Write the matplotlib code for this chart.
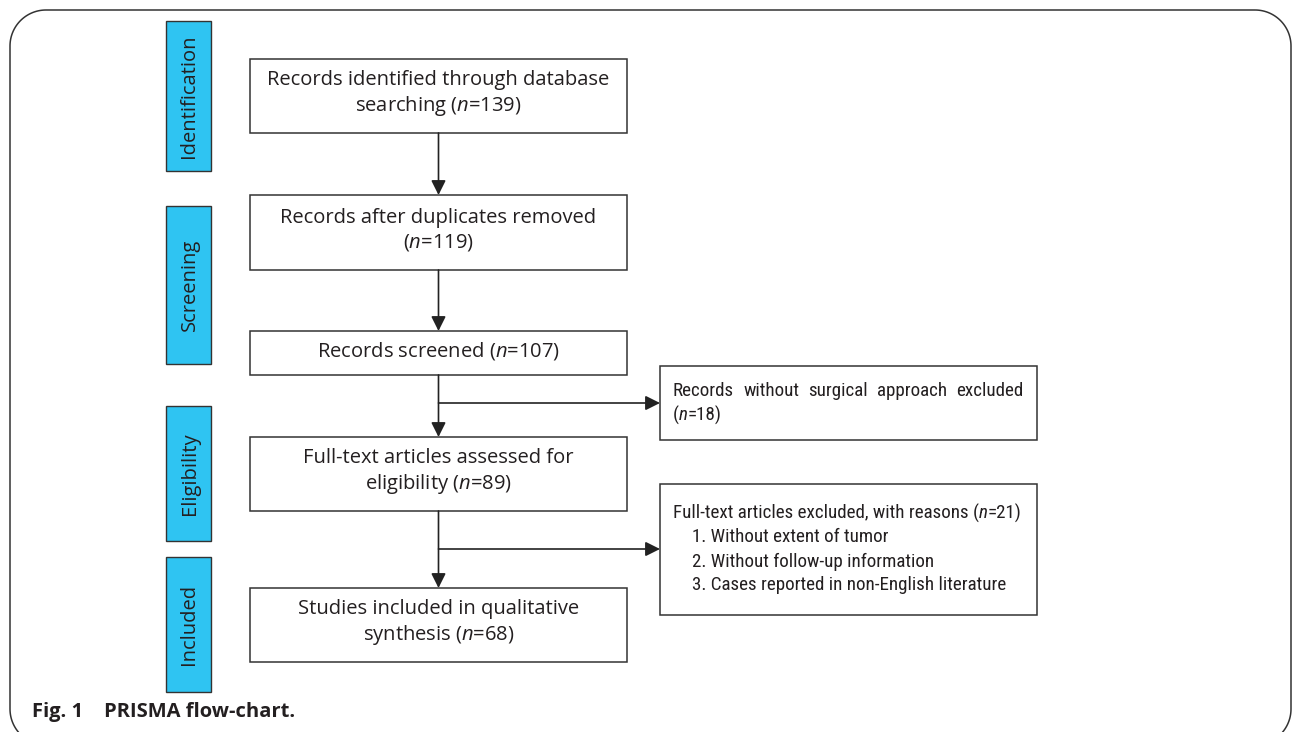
import matplotlib
matplotlib.use('Agg')
import matplotlib.pyplot as plt
from matplotlib import font_manager
from matplotlib.font_manager import FontProperties
from matplotlib.patches import Rectangle, Polygon, FancyArrowPatch
import numpy as np

plt.rcParams['font.family'] = ['Open Sans', 'DejaVu Sans']
plt.rcParams['mathtext.fontset'] = 'custom'
plt.rcParams['mathtext.it'] = 'Open Sans:italic'
plt.rcParams['mathtext.rm'] = 'Open Sans'

# stage labels and box texts
stages = ['Identification', 'Screening', 'Eligibility', 'Included']
main_texts = ['Records identified through database\nsearching ($n$=139)',
              'Records after duplicates removed\n($n$=119)',
              'Records screened ($n$=107)',
              'Full-text articles assessed for\neligibility ($n$=89)',
              'Studies included in qualitative\nsynthesis ($n$=68)']
excl1_lines = ['Records without surgical approach excluded', '(', 'n', '=18)']
excl2_head = ['Full-text articles excluded, with reasons (', 'n', '=21)']
excl2_items = ['1. Without extent of tumor',
               '2. Without follow-up information',
               '3. Cases reported in non-English literature']
caption = 'Fig. 1    PRISMA flow-chart.'

# layout in pixels (y downwards)
stage_y = [(21, 171), (206, 364), (406, 541), (557, 692)]
stage_x = (166, 211)
main_x = (250, 627)
main_y = [(59, 133), (195, 270), (331, 375), (437, 511), (588, 662)]
side_x = (660, 1037)
side_y = [(366, 440), (484, 615)]
branch_y = [403, 549]

txt_col = '#231f20'
edge_col = '#333333'
blue = '#2fc4f2'
fs = 14.5

# narrowest regular face we can find for the exclusion boxes
narrow = 'Open Sans'
for cand, keys in [('Roboto Condensed', ('roboto', 'condensed')),
                   ('Liberation Sans Narrow', ('liberation', 'narrow')),
                   ('Roboto', ('roboto',))]:
    try:
        fp = font_manager.findfont(FontProperties(family=cand),
                                   fallback_to_default=False).lower()
    except Exception:
        continue
    if all(k in fp for k in keys) and 'bold' not in fp:
        narrow = cand
        break

fig = plt.figure(figsize=(12.92, 7.32), dpi=100)
ax = fig.add_axes([0, 0, 1, 1])
ax.set_xlim(0, 1292)
ax.set_ylim(732, 0)
ax.axis('off')

# outer rounded frame (bottom runs off the page)
def rounded_rect(x0, y0, x1, y1, r):
    pts = []
    for (cxr, cyr, a0) in [(x1 - r, y0 + r, -90), (x1 - r, y1 - r, 0),
                           (x0 + r, y1 - r, 90), (x0 + r, y0 + r, 180)]:
        a = np.radians(np.linspace(a0, a0 + 90, 30))
        pts += list(zip(cxr + r * np.cos(a), cyr + r * np.sin(a)))
    return np.array(pts)

ax.add_patch(Polygon(rounded_rect(10, 10, 1291, 745, 36), closed=True,
                     fill=False, ec=edge_col, lw=1.1))

for lab, (y0, y1) in zip(stages, stage_y):
    ax.add_patch(Rectangle((stage_x[0], y0), stage_x[1] - stage_x[0], y1 - y0,
                           fc=blue, ec=edge_col, lw=1.0))
    ax.text((stage_x[0] + stage_x[1]) / 2 + 1, (y0 + y1) / 2, lab, rotation=90,
            ha='center', va='center', fontsize=fs, color=txt_col)

cx = (main_x[0] + main_x[1]) / 2
for t, (y0, y1) in zip(main_texts, main_y):
    ax.add_patch(Rectangle((main_x[0], y0), main_x[1] - main_x[0], y1 - y0,
                           fc='white', ec=edge_col, lw=1.1))
    ax.text(cx, (y0 + y1) / 2 - 2, t, ha='center', va='center', fontsize=fs,
            color=txt_col, linespacing=1.2, multialignment='center')

for (y0, y1) in side_y:
    ax.add_patch(Rectangle((side_x[0], y0), side_x[1] - side_x[0], y1 - y0,
                           fc='white', ec=edge_col, lw=1.1))

fig.canvas.draw()
renderer = fig.canvas.get_renderer()

def put(parts, x, y, size):
    # a run of text pieces, the 'n' in italics
    arts = []
    for p in parts:
        st = 'italic' if p == 'n' else 'normal'
        t = ax.text(x, y, p, ha='left', va='center', fontsize=size,
                    family=[narrow, 'DejaVu Sans'], style=st, color=txt_col)
        x += t.get_window_extent(renderer).width
        arts.append(t)
    return x, arts

# fit the heading line of the second box to 349 px
xe, tmp = put(excl2_head, 0, -100, fs)
for t in tmp:
    t.remove()
sfs = min(16.5, fs * 349 / xe)

def justified(words, x0, x1, y):
    arts = [ax.text(0, y, wd, ha='left', va='center', fontsize=sfs,
                    family=[narrow, 'DejaVu Sans'], color=txt_col) for wd in words]
    widths = [a.get_window_extent(renderer).width for a in arts]
    gap = (x1 - x0 - sum(widths)) / (len(words) - 1)
    x = x0
    for a, wd in zip(arts, widths):
        a.set_x(x)
        x += wd + gap

lh = 24
sx = side_x[0] + 13
c1 = (side_y[0][0] + side_y[0][1]) / 2
justified(excl1_lines[0].split(), sx, 1023, c1 - lh / 2)
put(excl1_lines[1:], sx, c1 + lh / 2, sfs)

c2 = (side_y[1][0] + side_y[1][1]) / 2
put(excl2_head, sx, c2 - 1.5 * lh, sfs)
for i, item in enumerate(excl2_items):
    put([item], sx + 19, c2 + (i - 0.5) * lh, sfs)

def arrow(p0, p1):
    ax.add_patch(FancyArrowPatch(p0, p1, arrowstyle='-|>', mutation_scale=22,
                                 color='#222222', lw=1.2, shrinkA=0, shrinkB=0))

# vertical arrows between main boxes
for (a0, a1), (b0, b1) in zip(main_y[:-1], main_y[1:]):
    arrow((cx, a1), (cx, b0))

# branches to exclusion boxes
for by in branch_y:
    arrow((cx, by), (side_x[0], by))

ax.text(32, 712, caption, ha='left', va='center', fontsize=14.5,
        fontweight='bold', color=txt_col)

fig.savefig('out.png', dpi=100)
